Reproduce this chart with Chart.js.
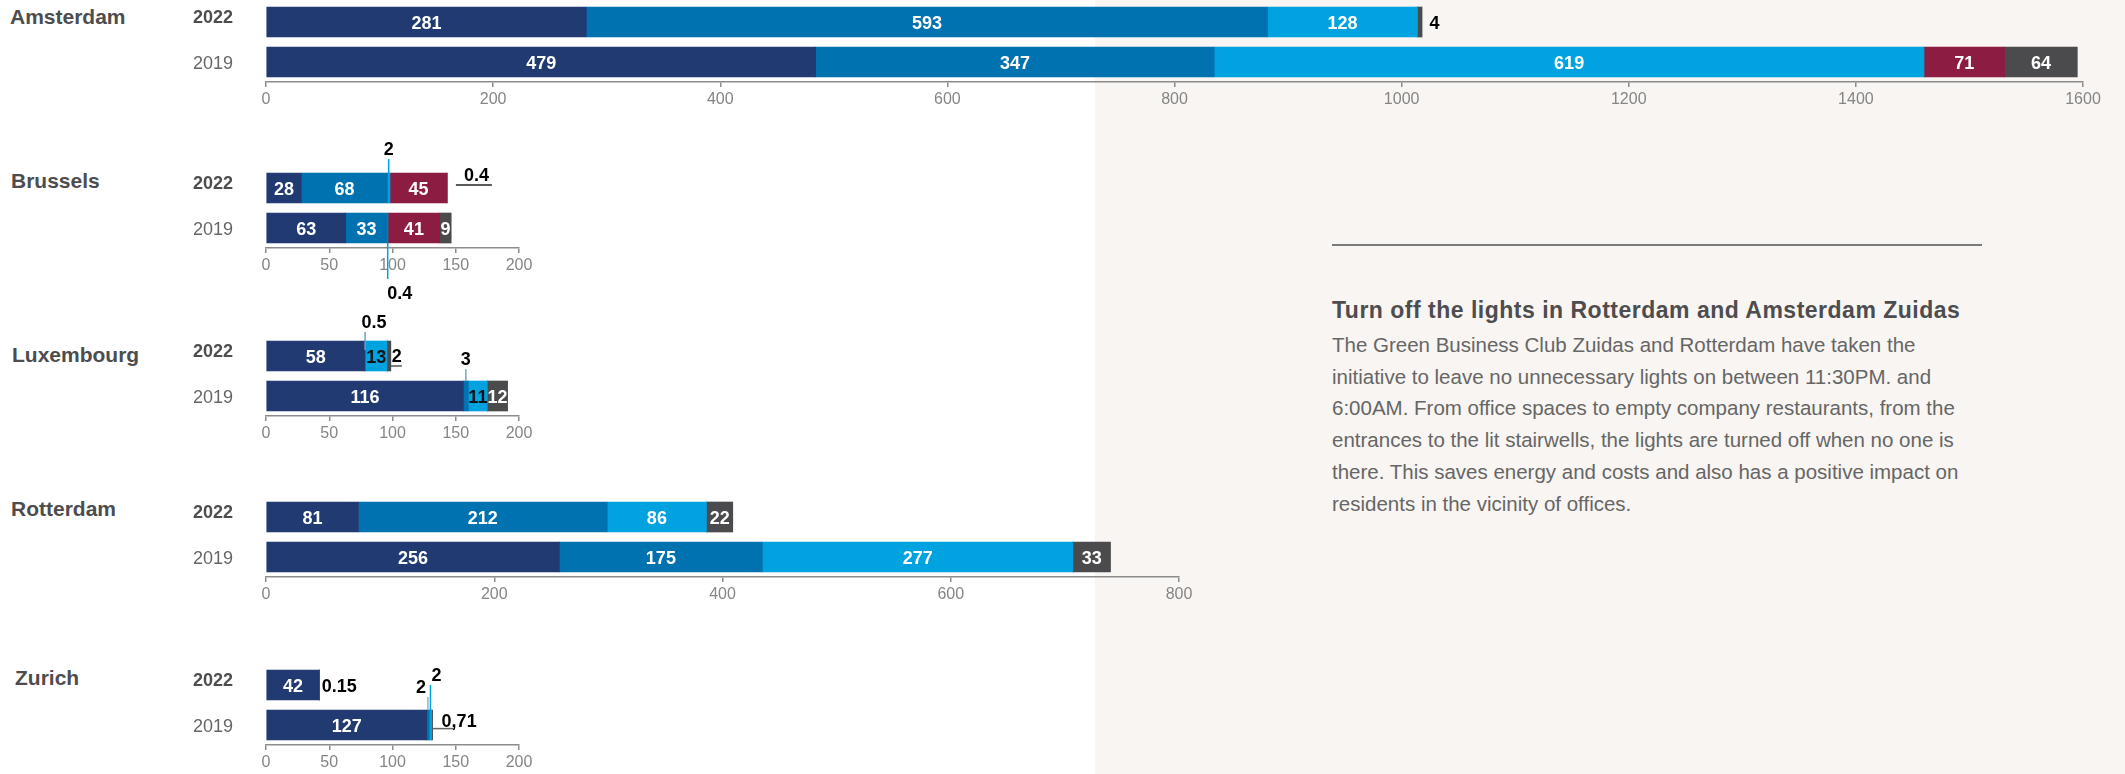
<!DOCTYPE html>
<html>
<head>
<meta charset="utf-8">
<script src="https://cdn.jsdelivr.net/npm/chart.js@4.4.0/dist/chart.umd.min.js"></script>
<style>
  html, body { margin: 0; padding: 0; width: 2125px; height: 774px; overflow: hidden; background: #fff;
    font-family: 'Liberation Sans', Arial, sans-serif; }
  #beige { position: absolute; left: 1095px; top: 0; width: 1030px; height: 774px; background: #f8f5f2; }
  .city { position: absolute; font-size: 21px; line-height: 21px; font-weight: bold; color: #4d4d4f; white-space: nowrap; }
  canvas { position: absolute; left: 0; }
  #rule { position: absolute; left: 1332px; top: 244px; width: 650px; height: 1.5px; background: #7a7a7a; }
  #title { position: absolute; left: 1332px; top: 299px; font-size: 23px; line-height: 23px; font-weight: bold;
    letter-spacing: 0.5px; color: #4d4d4f; white-space: nowrap; }
  #body { position: absolute; left: 1332px; top: 329px; font-size: 20.5px; line-height: 31.7px; color: #666;
    white-space: nowrap; }
</style>
</head>
<body>
<div id="beige"></div>
<div id="rule"></div>
<div id="title">Turn off the lights in Rotterdam and Amsterdam Zuidas</div>
<div id="body">The Green Business Club Zuidas and Rotterdam have taken the<br>initiative to leave no unnecessary lights on between 11:30PM. and<br>6:00AM. From office spaces to empty company restaurants, from the<br>entrances to the lit stairwells, the lights are turned off when no one is<br>there. This saves energy and costs and also has a positive impact on<br>residents in the vicinity of offices.</div>

<script>
// years (categories) and the five segment colours
const years = ['2022', '2019'];
const seriesColors = ['#213a72', '#0072b0', '#00a2df', '#8c1c42', '#4b4b4d'];

// bar lengths as drawn, order: navy, blue, light blue, red, grey
// (the printed numbers below do not always match the drawn length)
const amsterdam2022 = [282, 600, 132, 0, 4];
const amsterdam2019 = [484, 351, 625, 71, 64];
const brussels2022 = [28, 68, 2, 45, 0.4];
const brussels2019 = [63, 33, 0.4, 41, 9];
const luxembourg2022 = [78, 0.7, 17, 0, 3];
const luxembourg2019 = [156, 4, 15, 0, 16];
const rotterdam2022 = [81, 218, 87, 0, 23];
const rotterdam2019 = [257, 178, 272, 0, 33];
const zurich2022 = [42, 0.15, 0, 0, 0];
const zurich2019 = [127, 2, 2, 0, 0.71];

// printed numbers
const amsterdamText2022 = ['281', '593', '128', '', '4'];
const amsterdamText2019 = ['479', '347', '619', '71', '64'];
const brusselsText2022 = ['28', '68', '2', '45', '0.4'];
const brusselsText2019 = ['63', '33', '0.4', '41', '9'];
const luxembourgText2022 = ['58', '0.5', '13', '', '2'];
const luxembourgText2019 = ['116', '3', '11', '', '12'];
const rotterdamText2022 = ['81', '212', '86', '', '22'];
const rotterdamText2019 = ['256', '175', '277', '', '33'];
const zurichText2022 = ['42', '0.15', '', '', ''];
const zurichText2019 = ['127', '2', '2', '', '0,71'];

// x axis ticks
const ticksAmsterdam = [0, 200, 400, 600, 800, 1000, 1200, 1400, 1600];
const ticksSmall = [0, 50, 100, 150, 200];
const ticksRotterdam = [0, 200, 400, 600, 800];

const cities = [
  { name: 'Amsterdam', values: [amsterdam2022, amsterdam2019], text: [amsterdamText2022, amsterdamText2019], ticks: ticksAmsterdam },
  { name: 'Brussels', values: [brussels2022, brussels2019], text: [brusselsText2022, brusselsText2019], ticks: ticksSmall },
  { name: 'Luxembourg', values: [luxembourg2022, luxembourg2019], text: [luxembourgText2022, luxembourgText2019], ticks: ticksSmall, dark: [2] },
  { name: 'Rotterdam', values: [rotterdam2022, rotterdam2019], text: [rotterdamText2022, rotterdamText2019], ticks: ticksRotterdam },
  { name: 'Zurich', values: [zurich2022, zurich2019], text: [zurichText2022, zurichText2019], ticks: ticksSmall }
];

// small numbers written outside the bars
const notes = [
  { city: 'Amsterdam', year: 0, series: 4, kind: 'right', dx: 7.5 },
  { city: 'Brussels', year: 0, series: 2, kind: 'up', into: 7, len: 14, dx: 0, color: '#00a2df' },
  { city: 'Brussels', year: 0, series: 4, kind: 'under', gap: 8.5, len: 36, dy: -3, textDx: 8, lift: 4, color: '#222' },
  { city: 'Brussels', year: 1, series: 2, kind: 'down', len: 36, dx: 12, color: '#00a2df' },
  { city: 'Luxembourg', year: 0, series: 1, kind: 'up', into: 9, len: 9, dx: 9, color: '#6b9fcb' },
  { city: 'Luxembourg', year: 0, series: 4, kind: 'under', gap: 0, len: 11, dy: 10, textDx: 1, lift: 4, color: '#555' },
  { city: 'Luxembourg', year: 1, series: 1, kind: 'up', into: 0, len: 12, dx: 0, color: '#6fa8d2' },
  { city: 'Zurich', year: 0, series: 1, kind: 'right', dx: 2.5 },
  { city: 'Zurich', year: 1, series: 1, kind: 'up', into: 0, len: 13, dx: -7, color: '#8fb3d3' },
  { city: 'Zurich', year: 1, series: 2, kind: 'up', into: 0, len: 25, dx: 6, color: '#00a2df' },
  { city: 'Zurich', year: 1, series: 4, kind: 'under', gap: 0, len: 21, dy: 3.6, textDx: 9, lift: 2, color: '#666' }
];

// where each small chart sits on the page
const frames = {
  Amsterdam: { top: 2, right: 2083, labelX: 10, labelTop: 6 },
  Brussels: { top: 168, right: 519, labelX: 11, labelTop: 170 },
  Luxembourg: { top: 336, right: 519, labelX: 12, labelTop: 344 },
  Rotterdam: { top: 497, right: 1179, labelX: 11, labelTop: 498 },
  Zurich: { top: 665, right: 519, labelX: 15, labelTop: 667 }
};

const FONT = "'Liberation Sans', Arial, sans-serif";
const PAD_TOP = 45, PAD_BOTTOM = 30, X_AXIS_H = 36, PLOT_H = 80, PAD_RIGHT = 30;
const YEAR_SHIFT = [-4, 2];

const segmentLabels = {
  id: 'segmentLabels',
  afterDatasetsDraw(chart, args, opts) {
    const city = opts.city;
    const ctx = chart.ctx;
    const myNotes = notes.filter(n => n.city === city.name);
    ctx.save();

    // year labels left of the bars
    const yScale = chart.scales.y;
    ctx.textAlign = 'right';
    ctx.textBaseline = 'middle';
    years.forEach((yr, i) => {
      ctx.font = (i === 0 ? 'bold ' : '') + '18px ' + FONT;
      ctx.fillStyle = i === 0 ? '#4d4d4f' : '#666';
      ctx.fillText(yr, chart.chartArea.left - 33, yScale.getPixelForValue(i) + YEAR_SHIFT[i]);
    });

    ctx.font = 'bold 18px ' + FONT;
    ctx.textBaseline = 'alphabetic';
    chart.data.datasets.forEach((ds, si) => {
      chart.getDatasetMeta(si).data.forEach((bar, yi) => {
        const txt = city.text[yi][si];
        if (!ds.data[yi] || !txt) return;
        if (myNotes.some(n => n.year === yi && n.series === si)) return;
        ctx.fillStyle = (city.dark || []).includes(si) ? '#111' : '#fff';
        ctx.textAlign = 'center';
        ctx.fillText(txt, (bar.x + bar.base) / 2, bar.y + 6.5);
      });
    });

    myNotes.forEach(n => {
      const bar = chart.getDatasetMeta(n.series).data[n.year];
      const txt = city.text[n.year][n.series];
      const top = bar.y - bar.height / 2, bottom = bar.y + bar.height / 2;
      const cx = (bar.x + bar.base) / 2;
      ctx.fillStyle = '#000';
      ctx.lineWidth = 1.5;
      ctx.strokeStyle = n.color || '#000';
      if (n.kind === 'right') {
        ctx.textAlign = 'left';
        ctx.fillText(txt, bar.x + n.dx, bar.y + 6.5);
      } else if (n.kind === 'up') {
        ctx.beginPath();
        ctx.moveTo(cx, top + n.into);
        ctx.lineTo(cx, top - n.len);
        ctx.stroke();
        ctx.textAlign = 'center';
        ctx.fillText(txt, cx + n.dx, top - n.len - 4);
      } else if (n.kind === 'down') {
        ctx.beginPath();
        ctx.moveTo(cx, bottom);
        ctx.lineTo(cx, bottom + n.len);
        ctx.stroke();
        ctx.textAlign = 'center';
        ctx.fillText(txt, cx + n.dx, bottom + n.len + 20);
      } else if (n.kind === 'under') {
        const ly = bar.y + n.dy, x0 = bar.x + n.gap;
        ctx.beginPath();
        ctx.moveTo(x0, ly);
        ctx.lineTo(x0 + n.len, ly);
        ctx.stroke();
        ctx.textAlign = 'left';
        ctx.fillText(txt, x0 + n.textDx, ly - n.lift);
      }
    });
    ctx.restore();
  }
};

cities.forEach(city => {
  const f = frames[city.name];
  const label = document.createElement('div');
  label.className = 'city';
  label.textContent = city.name;
  label.style.left = f.labelX + 'px';
  label.style.top = f.labelTop + 'px';
  document.body.appendChild(label);

  const canvas = document.createElement('canvas');
  canvas.width = f.right + PAD_RIGHT;
  canvas.height = PAD_TOP + PLOT_H + X_AXIS_H + PAD_BOTTOM;
  canvas.style.top = (f.top - PAD_TOP) + 'px';
  document.body.appendChild(canvas);

  new Chart(canvas.getContext('2d'), {
    type: 'bar',
    data: {
      labels: years,
      datasets: seriesColors.map((c, si) => ({
        data: city.values.map(row => row[si]),
        backgroundColor: c,
        borderWidth: 0,
        barThickness: 30
      }))
    },
    options: {
      indexAxis: 'y',
      responsive: false,
      animation: false,
      events: [],
      layout: { padding: { top: PAD_TOP, right: PAD_RIGHT, bottom: PAD_BOTTOM, left: 0 } },
      plugins: {
        legend: { display: false },
        tooltip: { enabled: false },
        segmentLabels: { city: city }
      },
      scales: {
        x: {
          stacked: true,
          min: 0,
          max: city.ticks[city.ticks.length - 1],
          afterBuildTicks: s => { s.ticks = city.ticks.map(v => ({ value: v })); },
          afterFit: s => { s.height = X_AXIS_H; },
          grid: { display: true, drawOnChartArea: false, drawTicks: true, tickLength: 5, color: '#8c8c8c', lineWidth: 1.5 },
          border: { display: true, color: '#8c8c8c', width: 1.5 },
          ticks: {
            padding: 3, color: '#858585', font: { size: 16, family: FONT }, maxRotation: 0, autoSkip: false,
            callback: v => String(v)
          }
        },
        y: {
          stacked: true,
          afterFit: s => { s.width = 266; },
          grid: { display: false, drawTicks: false },
          border: { display: false },
          ticks: { display: false }
        }
      }
    },
    plugins: [segmentLabels]
  });
});
</script>
</body>
</html>
